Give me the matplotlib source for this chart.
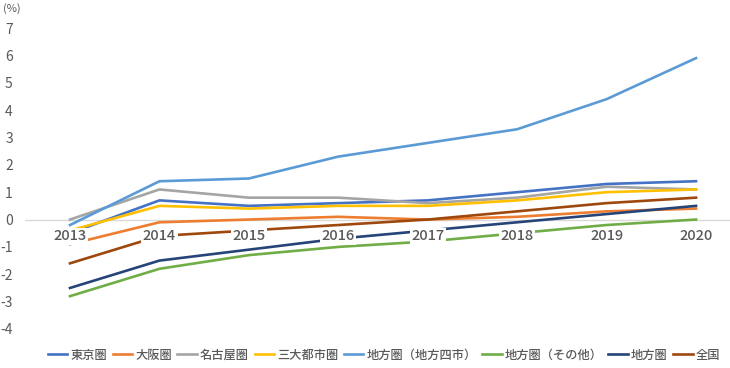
import matplotlib
matplotlib.use('Agg')
import matplotlib.pyplot as plt

plt.rcParams['font.family'] = ['Noto Sans CJK JP', 'DejaVu Sans']
plt.rcParams['axes.unicode_minus'] = False

# Data
years = ['2013', '2014', '2015', '2016', '2017', '2018', '2019', '2020']
tokyo     = [-0.5, 0.7, 0.5, 0.6, 0.7, 1.0, 1.3, 1.4]
osaka     = [-0.9, -0.1, 0.0, 0.1, 0.0, 0.1, 0.3, 0.4]
nagoya    = [0.0, 1.1, 0.8, 0.8, 0.6, 0.8, 1.2, 1.1]
sandai    = [-0.4, 0.5, 0.4, 0.5, 0.5, 0.7, 1.0, 1.1]
chiho4    = [-0.2, 1.4, 1.5, 2.3, 2.8, 3.3, 4.4, 5.9]
chiho_etc = [-2.8, -1.8, -1.3, -1.0, -0.8, -0.5, -0.2, 0.0]
chiho     = [-2.5, -1.5, -1.1, -0.7, -0.4, -0.1, 0.2, 0.5]
zenkoku   = [-1.6, -0.6, -0.4, -0.2, 0.0, 0.3, 0.6, 0.8]

series = [
    ('東京圏', tokyo, '#4472C4'),
    ('大阪圏', osaka, '#ED7D31'),
    ('名古屋圏', nagoya, '#A5A5A5'),
    ('三大都市圏', sandai, '#FFC000'),
    ('地方圏（地方四市）', chiho4, '#5B9BD5'),
    ('地方圏（その他）', chiho_etc, '#70AD47'),
    ('地方圏', chiho, '#264478'),
    ('全国', zenkoku, '#9E480E'),
]

W, H = 730, 368
fig = plt.figure(figsize=(W / 100, H / 100), dpi=100)
# axes: x 25..730 px, y 28..329 px (7 .. -4)
left, right = 25.3, 730
top, bottom = 28, 329
ax = fig.add_axes([left / W, 1 - bottom / H, (right - left) / W, (bottom - top) / H])

x = list(range(len(years)))
for name, vals, col in series:
    ax.plot(x, vals, color=col, linewidth=1.9, label=name, zorder=3)

ax.axhline(0, color='#D9D9D9', linewidth=1, zorder=1)
ax.set_xlim(-0.5, -0.5 + (right - left) / 89.43)
ax.set_ylim(-4, 7)
ax.set_yticks(range(-4, 8))
ax.tick_params(axis='y', length=0, labelsize=10, labelcolor='#595959', pad=9)
ax.set_xticks([])
for s in ax.spines.values():
    s.set_visible(False)

# year labels sitting on the zero line with white boxes
for i, yr in enumerate(years):
    ax.annotate(yr, (i, 0), xytext=(0, -12), textcoords='offset points',
                ha='center', va='center', fontsize=10.5, color='#595959',
                fontweight='medium',
                bbox=dict(boxstyle='square,pad=0.1', fc='white', ec='none'),
                zorder=5)

fig.text(3 / W, 1 - 9 / H, '(%)', fontsize=8, color='#595959', va='center', ha='left')

fig.legend(loc='center', bbox_to_anchor=(384 / W, 1 - 355 / H), ncol=8, frameon=False,
           prop={'size': 8.8, 'weight': 'medium'}, handlelength=1.6, handletextpad=0.25,
           columnspacing=0.45, borderpad=0, labelcolor='#595959')

fig.savefig('out.png', dpi=100)
